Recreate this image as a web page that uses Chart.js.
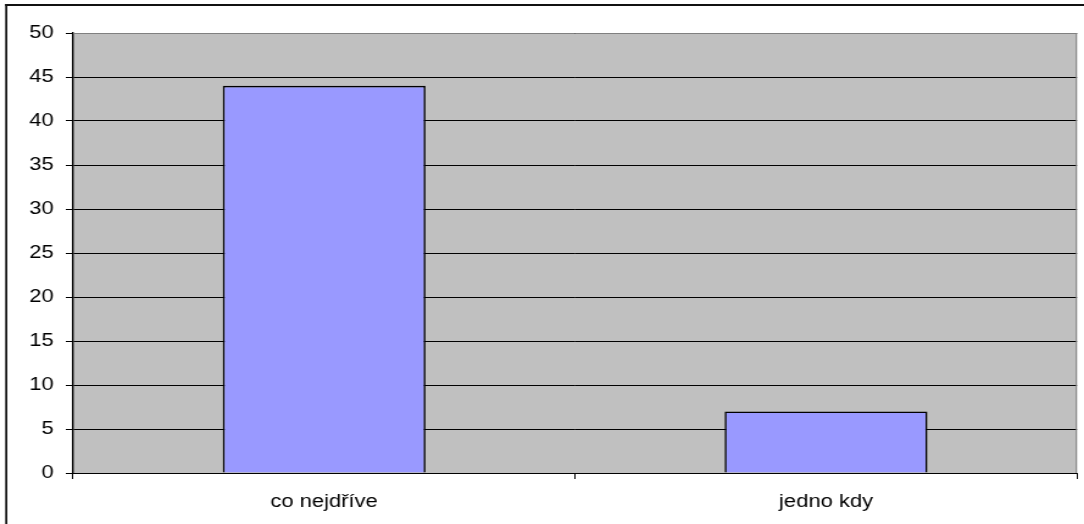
<!DOCTYPE html>
<html>
<head>
<meta charset="utf-8">
<script src="https://cdn.jsdelivr.net/npm/chart.js@4/dist/chart.umd.min.js"></script>
<style>
  html, body { margin: 0; padding: 0; background: #fff; overflow: hidden; }
  #wrap {
    position: absolute; left: 0; top: 0;
    width: 889px; height: 524px;
    transform: scaleX(1.2194);
    transform-origin: 0 0;
  }
  canvas { display: block; }
</style>
</head>
<body>
<div id="wrap"><canvas id="c" width="889" height="524"></canvas></div>
<script>
// Categories and counts
const categories = ['co nejdříve', 'jedno kdy'];
const counts = [44, 7];
// Value axis range
const yMin = 0;
const yMax = 50;
const yStep = 5;

const FONT = { family: '"Liberation Sans", Arial, sans-serif', size: 18 };

// Gray plot background, gray top/right plot edges and the outer frame
const frame = {
  id: 'frame',
  beforeDraw(chart) {
    const { ctx, chartArea: a } = chart;
    ctx.save();
    ctx.fillStyle = '#c0c0c0';
    ctx.fillRect(a.left, a.top, a.right - a.left, a.bottom - a.top);
    ctx.restore();
  },
  afterDraw(chart) {
    const { ctx, chartArea: a } = chart;
    ctx.save();
    ctx.strokeStyle = '#808080';
    ctx.lineWidth = 1;
    ctx.beginPath();
    ctx.moveTo(a.left, a.top + 0.5);
    ctx.lineTo(a.right, a.top + 0.5);
    ctx.moveTo(a.right - 0.5, a.top);
    ctx.lineTo(a.right - 0.5, a.bottom);
    ctx.stroke();
    ctx.fillStyle = '#111';
    ctx.fillRect(4.3, 4, 1.7, chart.height);
    ctx.fillRect(4.3, 4, chart.width, 2);
    ctx.restore();
  }
};

new Chart(document.getElementById('c'), {
  type: 'bar',
  data: {
    labels: categories,
    datasets: [{
      data: counts,
      backgroundColor: '#9999ff',
      borderColor: '#000',
      borderWidth: 1.6,
      categoryPercentage: 1,
      barPercentage: 0.404
    }]
  },
  options: {
    responsive: false,
    devicePixelRatio: 1,
    animation: false,
    events: [],
    layout: { padding: { left: 0, top: 33, right: 5.8, bottom: 0 } },
    plugins: { legend: { display: false }, tooltip: { enabled: false } },
    scales: {
      x: {
        grid: {
          offset: true,
          drawOnChartArea: false,
          color: '#000',
          tickLength: 6
        },
        border: { color: '#000', width: 1 },
        ticks: { color: '#000', font: FONT, padding: 12, maxRotation: 0 },
        afterFit(scale) { scale.height = 51; }
      },
      y: {
        min: yMin,
        max: yMax,
        ticks: { stepSize: yStep, color: '#000', font: FONT, padding: 10 },
        grid: { color: '#000', lineWidth: 1, tickLength: 6 },
        border: { color: '#000', width: 1.4 },
        afterFit(scale) { scale.width = 60; }
      }
    }
  },
  plugins: [frame]
});
</script>
</body>
</html>
